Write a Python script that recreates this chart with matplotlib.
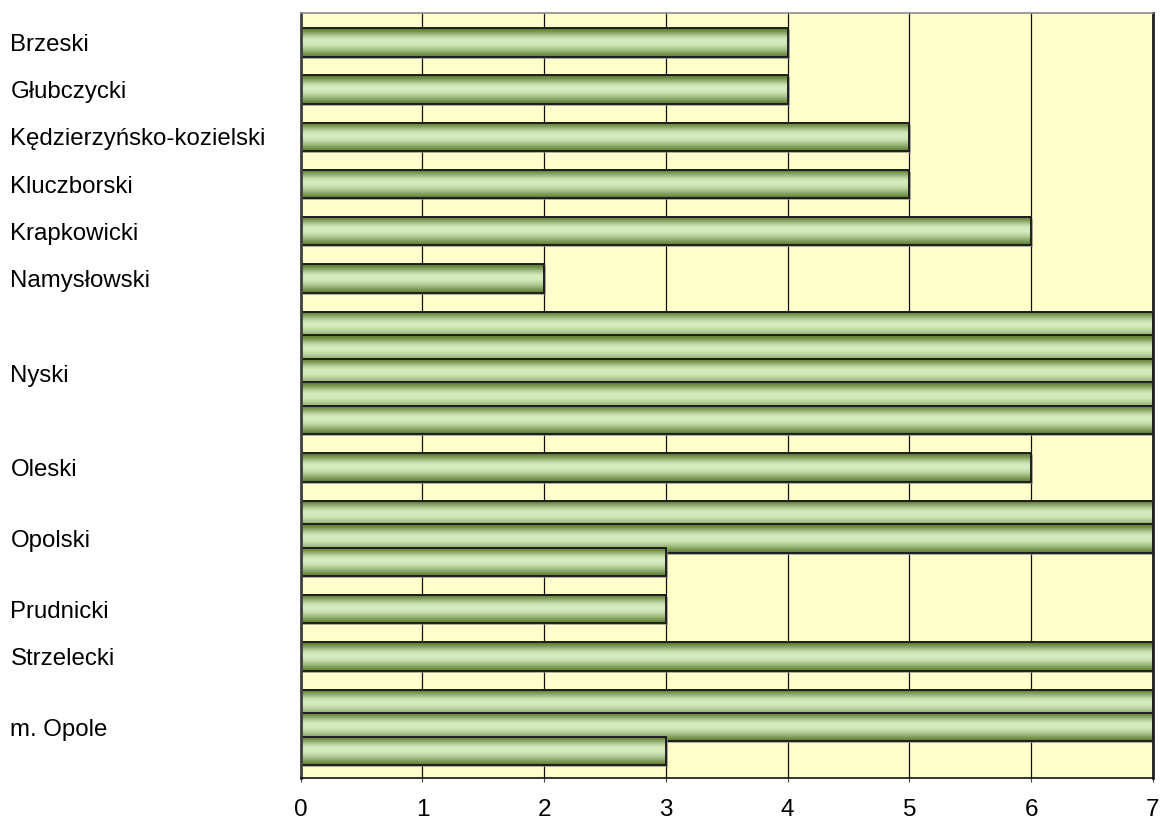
import numpy as np
import matplotlib
matplotlib.use('Agg')
import matplotlib.pyplot as plt
from matplotlib.patches import Rectangle
from matplotlib.colors import to_rgb

plt.rcParams['font.family'] = ['Liberation Sans', 'DejaVu Sans']

# dane: powiaty i wartosci slupkow (kilka slupkow na powiat)
powiaty = ['Brzeski', 'Głubczycki', 'Kędzierzyńsko-kozielski', 'Kluczborski',
           'Krapkowicki', 'Namysłowski', 'Nyski', 'Oleski', 'Opolski',
           'Prudnicki', 'Strzelecki', 'm. Opole']
wartosci = [[4], [4], [5], [5], [6], [2], [7, 7, 7, 7, 7], [6], [7, 7, 3],
            [3], [7], [7, 7, 3]]
xticks = [0, 1, 2, 3, 4, 5, 6, 7]

bar_h = 1.2      # slupki zachodza na siebie
tlo = '#FFFFCC'
ciemny = np.array(to_rgb('#5C7C30'))
jasny = np.array(to_rgb('#D6ECC0'))

# gradient poziomy paskow (jasny srodek troche wyzej)
t = np.linspace(0, 1, 80)
c = 0.45
prof = np.where(t < c, np.sin(np.pi / 2 * t / c) ** 1.6,
                np.cos(np.pi / 2 * (t - c) / (1 - c)) ** 1.2)
grad = ciemny[None, :] * (1 - prof[:, None]) + jasny[None, :] * prof[:, None]
grad = grad[:, None, :]

fig = plt.figure(figsize=(11.61, 8.21), dpi=100)
ax = fig.add_axes([0.259, 0.052, 0.9931 - 0.259, 0.9838 - 0.052])
ax.set_facecolor(tlo)

# pozycje wierszy
wiersz = 0
srodki = []
poz = []
for vals in wartosci:
    start = wiersz
    for v in vals:
        poz.append((wiersz, v))
        wiersz += 1
    srodki.append((start + (wiersz - 1) + bar_h) / 2)
    wiersz += 1

sx = 2 * 7 / 852.0
sy = 2 / 23.66
for k, (y0, v) in enumerate(poz):
    z = 3 + 3 * k
    ax.add_patch(Rectangle((sx, y0 + sy), v, bar_h, facecolor='#8C8C8C',
                           edgecolor='none', alpha=0.7, zorder=z))
    ax.imshow(grad, extent=(0, v, y0 + bar_h, y0), origin='upper',
              aspect='auto', interpolation='bilinear', zorder=z + 1)
    ax.add_patch(Rectangle((0, y0), v, bar_h, facecolor='none',
                           edgecolor='#1E1E1E', linewidth=1.4, zorder=z + 2))

ax.set_xlim(0, 7)
ax.set_ylim(poz[-1][0] + bar_h + 0.56, -0.63)
ax.set_aspect('auto')

ax.set_xticks(xticks)
ax.set_xticklabels([str(x) for x in xticks], fontsize=17.5)
ax.xaxis.grid(True, color='#111111', linewidth=0.9, zorder=1)
ax.set_axisbelow(True)
ax.tick_params(axis='x', length=3, pad=12, color='#444444')

ax.set_yticks(srodki)
ax.set_yticklabels(powiaty, fontsize=17.3)
ax.tick_params(axis='y', length=0, pad=209)
for lab in ax.get_yticklabels():
    lab.set_ha('left')

ax.spines['top'].set_color('#8A8A8A')
ax.spines['top'].set_linewidth(1.2)
ax.spines['left'].set_color('#404040')
ax.spines['left'].set_linewidth(2)
ax.spines['right'].set_color('#222222')
ax.spines['right'].set_linewidth(2)
ax.spines['bottom'].set_color('#111111')
ax.spines['bottom'].set_linewidth(1.2)
for s in ax.spines.values():
    s.set_zorder(200)

plt.savefig('out.png', dpi=100)
